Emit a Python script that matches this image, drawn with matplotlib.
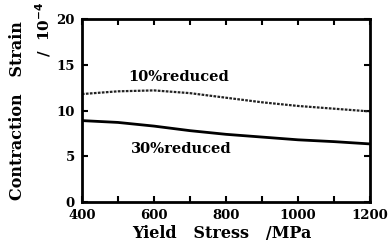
import numpy as np
import matplotlib
matplotlib.use("Agg")
import matplotlib.pyplot as plt

# valores
stress = [400, 500, 600, 700, 800, 900, 1000, 1100, 1200]
strain_10 = [11.8, 12.1, 12.2, 11.9, 11.4, 10.9, 10.5, 10.2, 9.9]
strain_30 = [8.9, 8.7, 8.3, 7.8, 7.4, 7.1, 6.8, 6.6, 6.35]

plt.rcParams['font.family'] = ['DejaVu Serif', 'Liberation Serif']
plt.rcParams['font.weight'] = 'bold'

fig = plt.figure(figsize=(3.9, 2.44), dpi=100)
ax = fig.add_axes([0.21, 0.172, 0.739, 0.75])

ax.plot(stress, strain_10, color='#222222', lw=1.6, ls=(0, (1.2, 0.6)))
ax.plot(stress, strain_30, color='black', lw=2.0)

ax.text(530, 13.7, '10%reduced', fontsize=10.5, fontweight='bold', va='center')
ax.text(535, 5.8, '30%reduced', fontsize=10.5, fontweight='bold', va='center')

ax.set_xlim(400, 1200)
ax.set_ylim(0, 20)
ax.set_xticks([400, 600, 800, 1000, 1200])
ax.set_xticks(np.arange(400, 1201, 100), minor=True)
ax.set_yticks([0, 5, 10, 15, 20])
ax.tick_params(which='both', direction='in', top=True, right=True, width=1.5,
               labelsize=9.5)
ax.tick_params(axis='x', pad=5)
ax.tick_params(axis='y', pad=5)
ax.tick_params(which='major', length=4)
ax.tick_params(which='minor', length=4)
for s in ax.spines.values():
    s.set_linewidth(2)

ax.set_xlabel('Yield   Stress   /MPa', fontsize=11.5, fontweight='bold', va='top')
ax.xaxis.set_label_coords(0.485, -0.125)
fig.text(0.045, 0.545, 'Contraction   Strain', rotation=90, fontsize=11.5,
         fontweight='bold', ha='center', va='center')
fig.text(0.11, 0.995, '/  10$^{-4}$', rotation=90, fontsize=11,
         fontweight='bold', ha='center', va='top')

fig.savefig('out.png', dpi=100)
